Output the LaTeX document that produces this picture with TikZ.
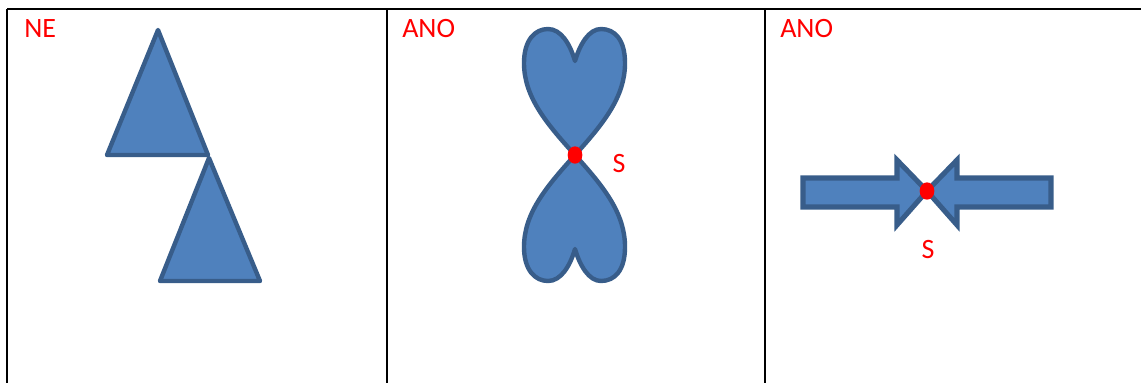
\documentclass[tikz,border=0pt]{standalone}
\usepackage{fontspec}
\setmainfont{Carlito}
\usetikzlibrary{shapes.geometric,positioning}
\definecolor{shapefill}{HTML}{4F81BD}
\definecolor{shapeline}{HTML}{385D8A}
\tikzset{
  frame/.style={draw=black, line width=2pt},
  blob/.style={fill=shapefill, draw=shapeline, line width=3.3pt, line join=round},
  arrowblob/.style={fill=shapefill, draw=shapeline, line width=3.8pt, line join=miter},
  tag/.style={text=red, font=\fontsize{21}{24}\selectfont, inner sep=0pt, anchor=base west},
  slabel/.style={text=red, font=\fontsize{21}{24}\selectfont, inner sep=0pt, anchor=base},
  spot/.style={ellipse, fill=red, inner sep=0pt, minimum width=11pt, minimum height=13pt}
}

\begin{document}
\begin{tikzpicture}[x=0.75pt, y=-0.75pt]
  \useasboundingbox (0,0) rectangle (1141,383);

  % Table lines
  \draw[frame] (7,9) -- (1141,9);
  \foreach \xx in {7,387,765}{
    \draw[frame] (\xx,9) -- (\xx,383);
  }

  % Panel 1: two triangles
  \draw[blob] (158,30) -- (208,155) -- (107,155) -- cycle;
  \draw[blob] (209,158) -- (260,281) -- (160,281) -- cycle;
  \node[tag] (t1) at (24,37) {NE};

  % Panel 2: two hearts meeting at S
  \draw[blob] (575,155)
    .. controls (545,122) and (524,96) .. (524,63)
    .. controls (524,40) and (535,29) .. (548,29)
    .. controls (561,29) and (570,44) .. (575,61)
    .. controls (580,44) and (589,29) .. (601,29)
    .. controls (615,29) and (625,40) .. (625,63)
    .. controls (625,96) and (605,122) .. (575,155) -- cycle;
  \draw[blob] (575,155)
    .. controls (545,188) and (524,214) .. (524,247)
    .. controls (524,270) and (535,281) .. (548,281)
    .. controls (561,281) and (570,266) .. (575,249)
    .. controls (580,266) and (589,281) .. (601,281)
    .. controls (615,281) and (625,270) .. (625,247)
    .. controls (625,214) and (605,188) .. (575,155) -- cycle;
  \node[spot] (s2) at (575,155) {};
  \node[tag] (t2) at (402,37) {ANO};
  \node[slabel] (l2) at (619,172) {S};

  % Panel 3: two arrows meeting at S
  \draw[arrowblob] (803,178) -- (897,178) -- (897,160) -- (927,191)
    -- (897,225) -- (897,207) -- (803,207) -- cycle;
  \draw[arrowblob] (1051,178) -- (957,178) -- (957,160) -- (927,191)
    -- (957,225) -- (957,207) -- (1051,207) -- cycle;
  \node[spot] (s3) at (927,191) {};
  \node[tag] (t3) at (780,37) {ANO};
  \node[slabel] (l3) at (928,258) {S};
\end{tikzpicture}
\end{document}
